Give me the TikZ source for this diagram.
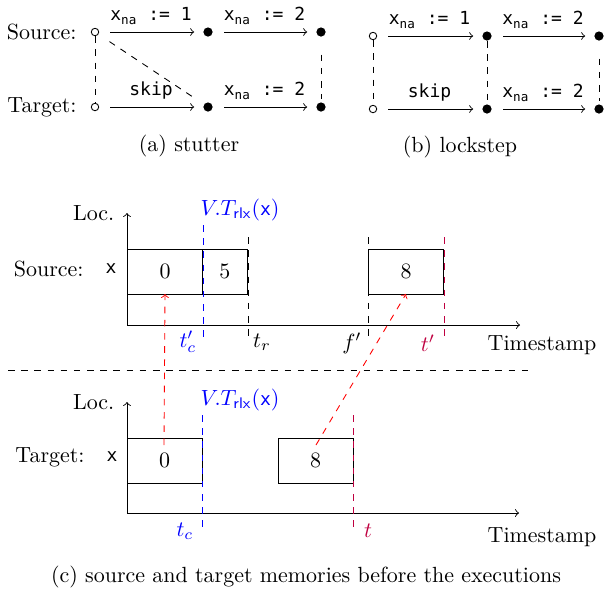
\documentclass[tikz,border=0pt]{standalone}
\usepackage{amsmath}
\usepackage{fontspec}
\setmonofont{DejaVu Sans Mono}[Scale=0.82]
\usetikzlibrary{positioning,quotes,calc}

\newcommand{\asg}[1]{\texttt{x}$_{\texttt{na}}$\texttt{ := #1}}
\newcommand{\vrlx}{$V.T_{\textsf{rlx}}(\texttt{x})$}

\begin{document}
\begin{tikzpicture}[x=0.016cm, y=-0.016cm,
	state/.style={circle, draw, inner sep=0pt, minimum size=3.4pt},
	done/.style={circle, fill, inner sep=0pt, minimum size=4.2pt},
	trans/.style={->, shorten <=5pt, shorten >=4pt},
	match/.style={dashed, shorten <=8pt, shorten >=1.5pt},
	cell/.style={draw, inner sep=0pt, outer sep=0pt, minimum height=0.72cm, minimum width=1.2cm},
	half/.style={cell, minimum width=0.72cm},
	msg/.style={red, dashed, ->}]
	\useasboundingbox (0,0) rectangle (606,594);

	% (a) stutter
	\node[state] (a0) at (95,32) {};
	\node[done] (a1) at (208,32) {};
	\node[done] (a2) at (321,32) {};
	\node[state] (a3) at (95,107) {};
	\node[done] (a4) at (208,107) {};
	\node[done] (a5) at (321,107) {};
	\node (asrc) [left=3pt of a0] {Source:};
	\node (atgt) [left=3pt of a3] {Target:};
	\draw[trans] (a0) edge["\asg{1}"] (a1) (a1) edge["\asg{2}"] (a2) (a3) edge["\texttt{skip}"] (a4) (a4) edge["\asg{2}"] (a5);
	\draw[match] (a0) -- (a3) (a2) -- (a5);
	\draw[dashed, shorten <=6pt, shorten >=5pt] (a0) -- (a4);
	\node (capa) at (189,146) {(a) stutter};

	% (b) lockstep
	\node[state] (b0) at (373,36) {};
	\node[done] (b1) at (487,36) {};
	\node[done] (b2) at (599,36) {};
	\node[state] (b3) at (373,109) {};
	\node[done] (b4) at (487,109) {};
	\node[done] (b5) at (599,109) {};
	\draw[trans] (b0) edge["\asg{1}"] (b1) (b1) edge["\asg{2}"] (b2) (b3) edge["\texttt{skip}"] (b4) (b4) edge["\asg{2}"] (b5);
	\draw[match] (b0) -- (b3) (b1) -- (b4) (b2) -- (b5);
	\node (capb) at (460,147) {(b) lockstep};

	% (c) source memory
	\coordinate (so) at (127,325);
	\coordinate (sy) at (127,213);
	\coordinate (sx) at (520,325);
	\node[cell] (s0) at (165,271.5) {0};
	\node[half, right=0pt of s0] (s5) {5};
	\node[cell] (s8) at (406,271.5) {8};
	\draw[->] (so) -- (sy);
	\draw[->] (so) -- (sx);
	\node[anchor=east] (sloc) at (122,213) {Loc.};
	\node (sts) at (542,345) {Timestamp};
	\node (sxl) at (111,269) {\texttt{x}};
	\node (slab) [left=3pt of sxl] {Source:};
	\draw[blue, dashed] (203,225) -- (203,340);
	\draw[dashed] (248,237) -- (248,340);
	\draw[dashed] (368,237) -- (368,340);
	\draw[purple, dashed] (444,237) -- (444,340);
	\node[blue] (svt) at (240,210) {\vrlx};
	\node[blue] (stc) at (188,342) {$t_c'$};
	\node (str) at (262,342) {$t_r$};
	\node (sf) at (352,343) {$f'$};
	\node[purple] (st) at (428,343) {$t'$};

	\draw[dashed] (8,370) -- (528,370);

	% (c) target memory
	\coordinate (to) at (127,513);
	\coordinate (ty) at (127,402);
	\coordinate (tx) at (519,513);
	\node[cell] (t0) at (164.5,460.5) {0};
	\node[cell] (t8) at (315.5,460.5) {8};
	\draw[->] (to) -- (ty);
	\draw[->] (to) -- (tx);
	\node[anchor=east] (tloc) at (122,402) {Loc.};
	\node (tts) at (542,537) {Timestamp};
	\node (txl) at (112,457) {\texttt{x}};
	\node (tlab) [left=3pt of txl] {Target:};
	\draw[blue, dashed] (202,415) -- (202,528);
	\draw[purple, dashed] (353,415) -- (353,528);
	\node[blue] (tvt) at (240,400) {\vrlx};
	\node[blue] (ttc) at (185,531) {$t_c$};
	\node[purple] (tt) at (368,531) {$t$};

	% messages from target to source
	\coordinate (m0) at (164,445);
	\coordinate (m8) at (316,445);
	\draw[msg] (m0) -- (s0.south);
	\draw[msg] (m8) -- (s8.south);

	\node (capc) at (306,577) {(c) source and target memories before the executions};
\end{tikzpicture}
\end{document}
